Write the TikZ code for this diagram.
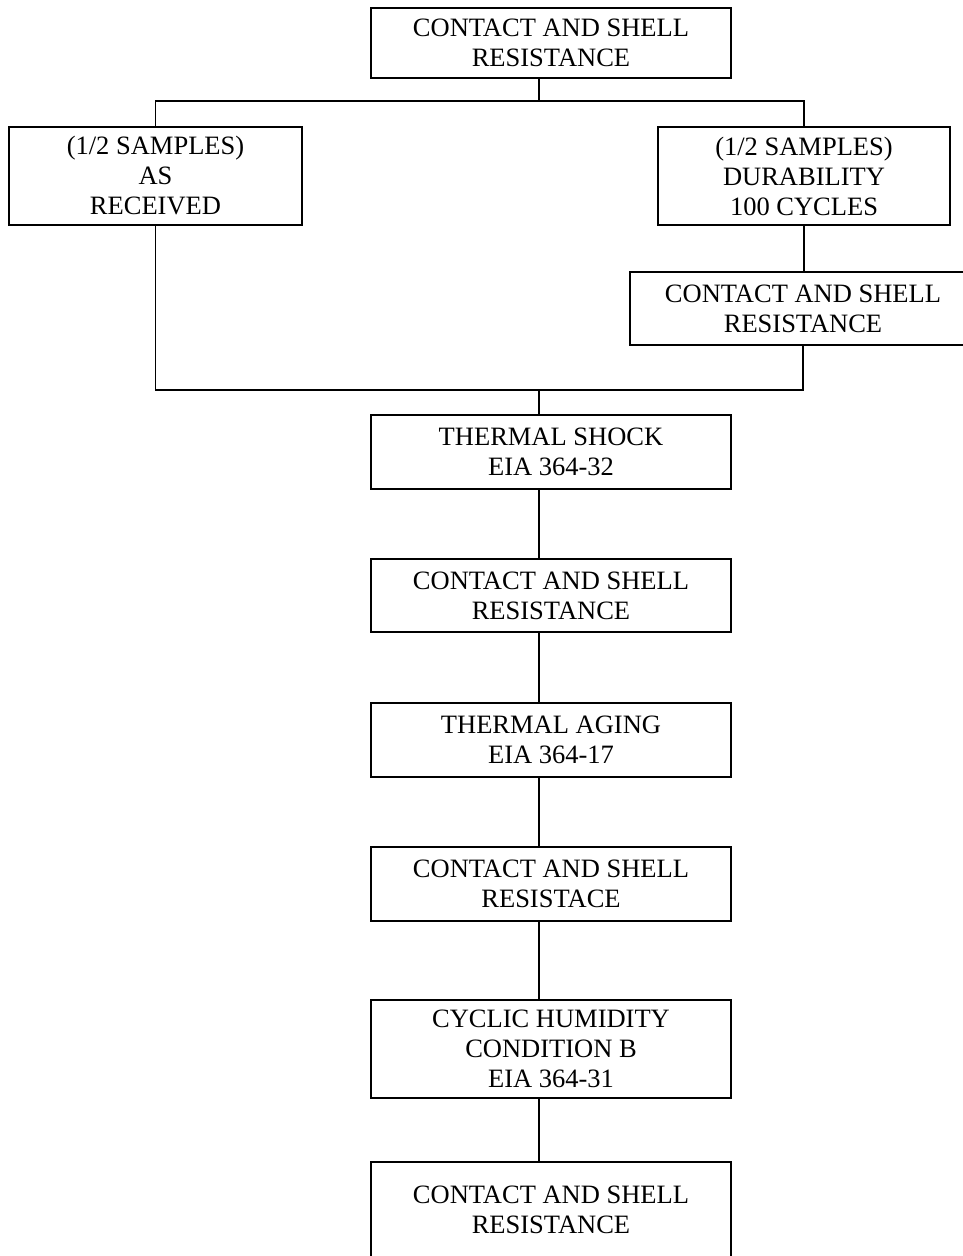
\documentclass[tikz,border=0pt]{standalone}
\usepackage{fontspec}
\setmainfont{Liberation Serif}
\usepackage{tikz}
\usetikzlibrary{calc}
\tikzset{
	boxstyle/.style={rectangle,draw=black,line width=1.6pt,fill=white,align=center,inner sep=0pt,minimum width=360pt,minimum height=73pt,font=\fontsize{26.5}{30}\selectfont},
	tallstyle/.style={boxstyle,minimum height=98pt},
	linestyle/.style={draw=black,line width=1.6pt}
}
\begin{document}
\begin{tikzpicture}[x=1pt,y=-1pt]
	\clip (0,0) rectangle (963,1256);
	\fill[white] (0,0) rectangle (963,1256);
	\coordinate (split) at (539,101);
	\coordinate (join) at (539,390);
	\node[boxstyle,minimum height=70pt] (top) at (551,43) {CONTACT AND SHELL\\RESISTANCE};
	\node[tallstyle,minimum width=293pt] (asrec) at (155.5,176) {(1/2 SAMPLES)\\AS\\RECEIVED};
	\node[tallstyle,minimum width=292pt] (durab) at (804,176) {(1/2 SAMPLES)\\DURABILITY\\100 CYCLES};
	\node[boxstyle,minimum width=346pt] (durcsr) at (803,308.5) {CONTACT AND SHELL\\RESISTANCE};
	\node[boxstyle,minimum height=74pt] (tshock) at (551,452) {THERMAL SHOCK\\EIA 364-32};
	\node[boxstyle] (csra) at (551,595.5) {CONTACT AND SHELL\\RESISTANCE};
	\node[boxstyle,minimum height=74pt] (taging) at (551,740) {THERMAL AGING\\EIA 364-17};
	\node[boxstyle,minimum height=74pt] (csrb) at (551,884) {CONTACT AND SHELL\\RESISTACE};
	\node[tallstyle] (humid) at (551,1049) {CYCLIC HUMIDITY\\CONDITION B\\EIA 364-31};
	\node[boxstyle,minimum height=96pt] (csrc) at (551,1210) {CONTACT AND SHELL\\RESISTANCE};
	% split into two halves
	\draw[linestyle] (top.south -| split)--(split);
	\draw[linestyle] (asrec.north) |- (durab.north |- split)--(durab.north);
	\draw[linestyle] (durab.south)--(durab.south |- durcsr.north);
	% join again
	\draw[linestyle] (asrec.south) |- (join) -| (durcsr.south);
	\draw[linestyle] (join)--(join |- tshock.north);
	\foreach \a/\b in {tshock/csra,csra/taging,taging/csrb,csrb/humid,humid/csrc}
		\draw[linestyle] (\a.south -| join)--(\b.north -| join);
\end{tikzpicture}
\end{document}
